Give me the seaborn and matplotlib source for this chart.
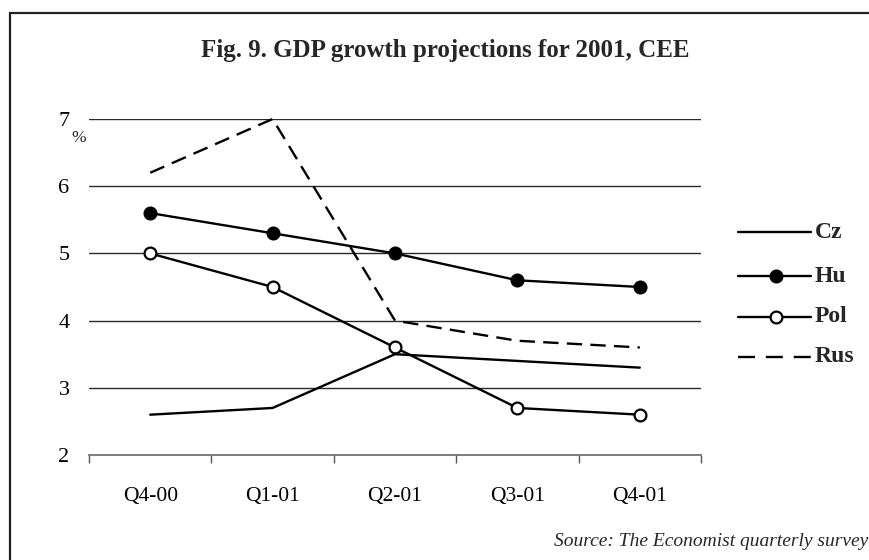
import matplotlib
matplotlib.use("Agg")
import matplotlib.pyplot as plt
from matplotlib.lines import Line2D
from matplotlib.patches import Rectangle
import pandas as pd
import seaborn as sns

quarters = ["Q4-00", "Q1-01", "Q2-01", "Q3-01", "Q4-01"]
cz = [2.6, 2.7, 3.5, 3.4, 3.3]
hu = [5.6, 5.3, 5.0, 4.6, 4.5]
pol = [5.0, 4.5, 3.6, 2.7, 2.6]
rus = [6.2, 7.0, 4.0, 3.7, 3.6]
countries = ["Cz", "Hu", "Pol", "Rus"]
y_ticks = [2, 3, 4, 5, 6, 7]

sns.set_theme(style="white")
plt.rcParams["font.family"] = ["Liberation Serif", "DejaVu Serif"]

frames = []
for name, vals in zip(countries, [cz, hu, pol, rus]):
    frames.append(pd.DataFrame({"quarter": quarters, "pos": range(len(quarters)),
                                "growth": vals, "country": name}))
df = pd.concat(frames, ignore_index=True)

fig = plt.figure(figsize=(8.7, 5.6), dpi=100)
W, H = 870, 560
ax = fig.add_axes([89 / W, 1 - 455 / H, (701 - 89) / W, (455 - 119) / H])

dash = (0, (6.5, 3.5))
legend_dash = (0, (7.2, 4.6))
styles = {
    "Cz": dict(marker=None),
    "Hu": dict(marker="o", mfc="black"),
    "Pol": dict(marker="o", mfc="white"),
    "Rus": dict(marker=None, linestyle=dash),
}

lw = 1.7
for name in ["Cz", "Pol", "Hu", "Rus"]:
    sub = df[df["country"] == name]
    st = styles[name]
    kw = dict(color="black", linewidth=lw, ax=ax, legend=False)
    if st["marker"]:
        kw.update(marker="o", markersize=8.5, markerfacecolor=st["mfc"],
                  markeredgecolor="black", markeredgewidth=1.6)
    if "linestyle" in st:
        kw.update(linestyle=st["linestyle"])
    sns.lineplot(data=sub, x="pos", y="growth", **kw)
for l in ax.lines:
    l.set_clip_on(False)

ax.set_xlim(-0.5, len(quarters) - 0.5)
ax.set_ylim(2, 7)
ax.set_xlabel("")
ax.set_ylabel("")

# horizontal gridlines
for v in y_ticks[1:]:
    ax.axhline(v, color="#2a2a2a", linewidth=1.0, zorder=0)

for s in ["top", "right", "left"]:
    ax.spines[s].set_visible(False)
ax.spines["bottom"].set_color("#666666")
ax.spines["bottom"].set_linewidth(1.2)

ax.set_xticks(range(len(quarters)))
ax.set_xticklabels(quarters)
ax.set_xticks([i - 0.5 for i in range(len(quarters) + 1)], minor=True)
ax.tick_params(axis="x", which="major", length=0, pad=23, labelsize=15.5, colors="black")
ax.tick_params(axis="x", which="minor", length=6, width=1.0, color="#555555", direction="out", bottom=True)
ax.set_yticks(y_ticks)
ax.set_yticklabels([str(v) for v in y_ticks])
ax.tick_params(axis="y", which="both", length=0, pad=14, labelsize=16, colors="black")

fig.text(79 / W, 1 - 138 / H, "%", ha="center", va="center", fontsize=12.5)

fig.text(445 / W, 1 - 50 / H, "Fig. 9. GDP growth projections for 2001, CEE",
         ha="center", va="center", fontsize=18, fontweight="bold")

# legend drawn by hand on the right
leg_rows = [232, 276, 317, 357]
for name, yy in zip(countries, leg_rows):
    yf = 1 - yy / H
    ls = legend_dash if name == "Rus" else "-"
    fig.add_artist(Line2D([738 / W, 811 / W], [yf, yf], color="black", linewidth=lw,
                          linestyle=ls, transform=fig.transFigure))
    if name in ("Hu", "Pol"):
        fig.add_artist(Line2D([776 / W], [yf], marker="o", markersize=8.5,
                              markerfacecolor="black" if name == "Hu" else "white",
                              markeredgecolor="black", markeredgewidth=1.6,
                              transform=fig.transFigure))
    fig.text(815 / W, yf, name, ha="left", va="center", fontsize=17, fontweight="bold")

fig.text(868 / W, 1 - 541 / H, "Source: The Economist quarterly survey",
         ha="right", va="center", fontsize=14, style="italic")

# outer frame
fig.add_artist(Rectangle((10 / W, -0.1), 1.2, 1 - 13 / H + 0.1, fill=False,
                         edgecolor="#222222", linewidth=1.6, transform=fig.transFigure))

fig.savefig("out.png", dpi=100)
